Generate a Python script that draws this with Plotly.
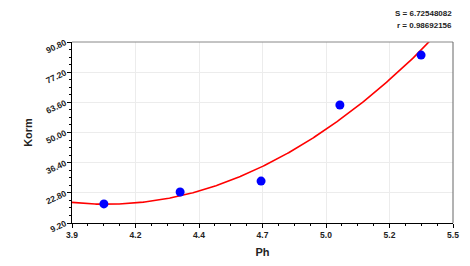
import numpy as np
import plotly.graph_objects as go

# Data
ph = [4.034, 4.354, 4.694, 5.025, 5.366]
korm = [17.8, 23.2, 28.1, 62.4, 84.9]

stat_lines = ["S = 6.72548082", "r = 0.98692156"]

x_min, x_max = 3.9, 5.5
y_min, y_max = 9.2, 90.8
x_ticks = list(np.linspace(x_min, x_max, 7))
x_ticktext = [f"{v:.1f}" for v in x_ticks]
y_ticks = list(np.linspace(y_min, y_max, 7))
y_ticktext = [f"{v:.2f}" for v in y_ticks]

# quadratic regression curve through the points
coef = np.polyfit(ph, korm, 2)
xs = np.linspace(x_min, x_max, 300)
ys = np.polyval(coef, xs)

font_family = "Liberation Sans, Arial, sans-serif"

fig = go.Figure()
fig.add_trace(go.Scatter(x=xs, y=ys, mode="lines",
                         line=dict(color="#ff0000", width=1.6),
                         hoverinfo="skip", showlegend=False))
fig.add_trace(go.Scatter(x=ph, y=korm, mode="markers",
                         marker=dict(color="#0000ff", size=9),
                         showlegend=False, cliponaxis=False))

# page body has an 8px default margin, so the figure is sized/offset to compensate
fig.update_layout(
    width=462, height=258,
    margin=dict(l=64, r=17, t=34, b=43, autoexpand=False),
    paper_bgcolor="white", plot_bgcolor="white",
    font=dict(family=font_family, color="#222"),
    xaxis=dict(
        range=[x_min, x_max], tickmode="array", tickvals=x_ticks, ticktext=x_ticktext,
        automargin=False,
        showgrid=True, gridcolor="#ececec", gridwidth=1, zeroline=False,
        showline=True, linecolor="#000", linewidth=1,
        ticks="outside", ticklen=4, tickcolor="#000",
        tickfont=dict(size=8.5, family=font_family, weight="bold", color="#222"),
        minor=dict(tickmode="linear", tick0=x_min, dtick=(x_max - x_min) / 24,
                   ticks="outside", ticklen=2, tickcolor="#000", showgrid=False),
        title=dict(text="<b>Ph</b>", font=dict(size=11, family=font_family, color="#222"), standoff=9),
    ),
    yaxis=dict(
        range=[y_min, y_max], tickmode="array", tickvals=y_ticks, ticktext=y_ticktext,
        automargin=False,
        showgrid=True, gridcolor="#ececec", gridwidth=1, zeroline=False,
        showline=True, linecolor="#000", linewidth=1,
        ticks="outside", ticklen=4, tickcolor="#000", tickangle=-25,
        tickfont=dict(size=8.5, family=font_family, weight="bold", color="#222"),
        minor=dict(tickmode="linear", tick0=y_min, dtick=(y_max - y_min) / 24,
                   ticks="outside", ticklen=2, tickcolor="#000", showgrid=False),
        title=dict(text="<b>Korm</b>", font=dict(size=11, family=font_family, color="#222"), standoff=9),
    ),
    shapes=[
        dict(type="line", xref="paper", yref="paper", x0=0, x1=1, y0=1, y1=1,
             line=dict(color="#888", width=1)),
        dict(type="line", xref="paper", yref="paper", x0=1, x1=1, y0=0, y1=1,
             line=dict(color="#666", width=1)),
    ],
    annotations=[
        dict(text="<b>" + stat_lines[0] + "</b>", xref="paper", yref="paper",
             x=1.0, y=1.0, yshift=29, xshift=1, xanchor="right", yanchor="middle",
             showarrow=False, font=dict(size=8, family=font_family, color="#222")),
        dict(text="<b>" + stat_lines[1] + "</b>", xref="paper", yref="paper",
             x=1.0, y=1.0, yshift=17, xshift=1, xanchor="right", yanchor="middle",
             showarrow=False, font=dict(size=8, family=font_family, color="#222")),
    ],
)

fig.write_html("out.html")
